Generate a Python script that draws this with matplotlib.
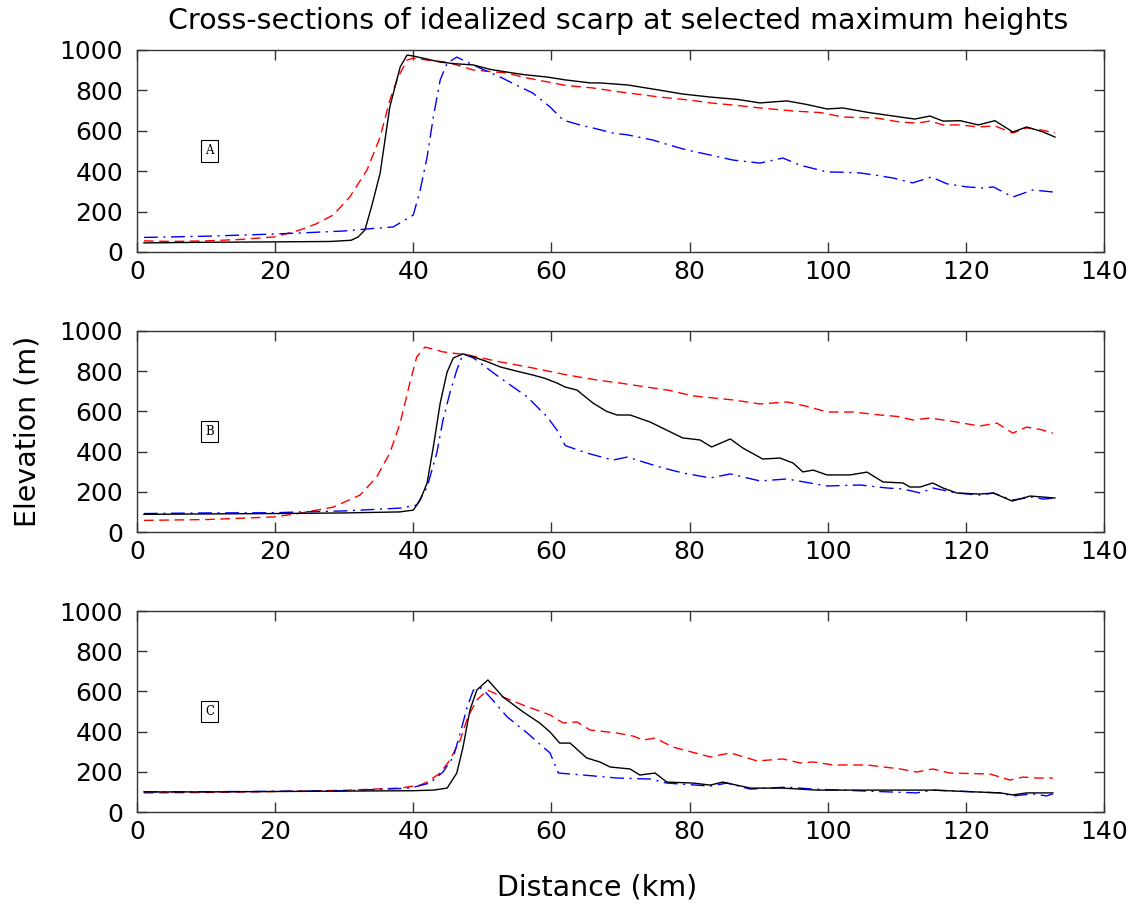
import matplotlib
matplotlib.use("Agg")
import matplotlib.pyplot as plt

# panel A (km, m)
a_black_x = [1, 10, 20, 28, 31, 32, 33, 34, 35.2, 36.6, 38.1, 39.1, 40, 42, 43.9, 46, 48.7, 51, 53.5, 56, 59.4, 62, 65.6, 67, 71, 75, 79, 83, 87, 90.2, 94.1, 97, 99.9, 102.2, 106, 109.5, 112.6, 114.8, 116.7, 119.2, 121.8, 124.2, 126.8, 128.8, 131.2, 132.9]
a_black_y = [45, 48, 50, 52, 58, 74, 109, 230, 390, 718, 916, 975, 970, 955, 940, 932, 926, 905, 891, 878, 866, 852, 837, 837, 827, 805, 782, 767, 755, 738, 748, 730, 708, 713, 690, 673, 658, 673, 648, 650, 629, 650, 594, 619, 594, 569]
a_red_x = [1, 5, 10, 15, 20, 23.6, 26, 28.4, 30.8, 33.3, 35.2, 36.6, 37.8, 39.1, 40, 42, 44.9, 48.7, 53.5, 56, 59.4, 62, 66, 70, 75.7, 80, 83, 87, 90.2, 95, 99, 102.2, 107.1, 110.5, 112.9, 114.8, 116.7, 119.2, 121.8, 124.2, 126.8, 128.8, 130.8, 132.9]
a_red_y = [55, 52, 55, 62, 75, 109, 140, 183, 272, 406, 569, 752, 866, 950, 960, 950, 940, 901, 886, 865, 842, 825, 812, 792, 767, 752, 738, 725, 713, 698, 690, 668, 663, 643, 638, 648, 629, 629, 619, 624, 589, 614, 605, 589]
a_blue_x = [1, 10, 20, 23.6, 30, 33.3, 37.1, 40, 41, 42, 42.9, 43.9, 44.9, 46.3, 47.8, 50, 52.6, 55, 57.3, 59.8, 61.7, 64, 66, 68.9, 71, 74.7, 77, 79.6, 83, 86.3, 90.2, 93.5, 96, 99.9, 102, 104.7, 107, 109.5, 112.3, 115, 117.3, 120.2, 122.5, 124, 126.8, 129.7, 132.6]
a_blue_y = [72, 78, 89, 94, 104, 114, 124, 183, 307, 470, 668, 852, 935, 965, 940, 905, 866, 825, 787, 718, 653, 630, 614, 589, 580, 554, 530, 505, 480, 455, 440, 465, 430, 396, 395, 391, 380, 366, 342, 371, 337, 322, 317, 322, 272, 307, 297]

# panel B
b_black_x = [1, 10, 20, 30, 38, 40, 41, 42, 42.9, 43.9, 44.9, 45.8, 47.2, 48.7, 50.5, 52.6, 55, 57.3, 59, 60.8, 62, 63.7, 66, 68, 69.5, 71.4, 74.3, 76.5, 79, 81.5, 83.2, 85.9, 87.7, 90.6, 93.1, 95, 96.4, 97.9, 99.9, 103.2, 105.7, 108, 110.9, 111.9, 113.4, 115.2, 116.7, 118.7, 122, 124, 126.7, 129.3, 131.2, 132.9]
b_black_y = [88, 90, 92, 95, 100, 109, 159, 244, 423, 642, 796, 866, 886, 871, 850, 821, 800, 781, 765, 741, 721, 706, 642, 600, 582, 582, 547, 510, 468, 458, 423, 463, 418, 363, 368, 343, 299, 308, 284, 284, 298, 249, 244, 224, 224, 244, 219, 194, 189, 194, 154, 179, 174, 169]
b_red_x = [1, 10, 19.7, 23, 28.4, 32.3, 34.7, 36.6, 38.1, 39.5, 40.5, 41.7, 44.3, 47.8, 52.6, 57.3, 62.3, 66.6, 69.9, 73.8, 77, 80.5, 86.3, 90.2, 94.1, 97, 99.9, 103.7, 107.6, 110, 112.4, 114.8, 118.7, 122, 124.5, 126.8, 128.8, 130.8, 132.6]
b_red_y = [58, 62, 75, 90, 124, 184, 274, 393, 542, 741, 871, 920, 896, 881, 846, 816, 781, 756, 741, 721, 705, 677, 657, 637, 647, 625, 597, 597, 582, 575, 557, 567, 547, 527, 542, 492, 522, 510, 492]
b_blue_x = [1, 10, 20, 23.6, 30, 38.1, 40.5, 42, 43.4, 44.3, 45.3, 46.3, 47.2, 48.7, 52.6, 56.5, 59.4, 60.8, 62, 65.1, 68.9, 71, 73.8, 76, 79, 83, 85.9, 90.2, 94.1, 97.4, 99.9, 104.7, 108.6, 110.9, 113.4, 115.2, 118.7, 122, 124, 126.7, 129.7, 131.2, 132.9]
b_blue_y = [92, 95, 96, 100, 105, 119, 134, 224, 393, 557, 692, 806, 886, 866, 766, 672, 572, 507, 430, 393, 358, 373, 343, 320, 294, 269, 289, 254, 264, 244, 229, 234, 219, 214, 194, 219, 194, 184, 194, 159, 174, 164, 169]

# panel C
c_black_x = [1, 10, 20, 30, 40, 42.9, 44.9, 46.3, 47.2, 48.2, 49.2, 50.8, 53, 55.9, 58.3, 59.8, 61.2, 62.7, 65.1, 67, 68.5, 71.4, 72.8, 75, 76.7, 80.5, 83, 84.8, 88.8, 93.5, 98.4, 105.7, 115.2, 120, 125, 126.8, 128.8, 132.6]
c_black_y = [100, 100, 102, 104, 106, 109, 119, 194, 323, 507, 607, 657, 572, 498, 443, 398, 343, 343, 269, 249, 224, 214, 184, 194, 149, 144, 134, 149, 119, 119, 109, 109, 109, 102, 95, 85, 95, 95]
c_red_x = [1, 10, 20, 30, 38.1, 41, 42, 43.9, 45.3, 46.8, 47.9, 49.2, 50.7, 53, 55.9, 59.8, 61.7, 63.7, 65.6, 69.5, 71.8, 73.3, 75, 77.6, 83, 85.9, 89.8, 93.5, 96, 97.9, 100.8, 105.7, 110.5, 112.9, 115.2, 117.7, 123.5, 126.4, 128.3, 130.3, 132.6]
c_red_y = [95, 97, 102, 108, 119, 134, 149, 194, 259, 358, 473, 557, 607, 572, 532, 483, 443, 448, 408, 393, 378, 358, 368, 323, 274, 294, 254, 264, 244, 249, 234, 234, 214, 199, 214, 194, 189, 159, 174, 169, 169]
c_blue_x = [1, 10, 20, 30, 39.5, 42.4, 44.3, 45.8, 46.8, 47.8, 48.7, 49.9, 51.5, 53.6, 56.5, 58.8, 59.8, 61, 64.6, 69.5, 74.3, 76.7, 83, 85.4, 88.8, 94.1, 97.9, 105.7, 112.9, 115.2, 125, 126.8, 129.7, 131.7, 132.6]
c_blue_y = [100, 101, 103, 106, 119, 144, 199, 274, 393, 522, 607, 617, 557, 473, 393, 323, 294, 194, 184, 169, 164, 144, 129, 144, 114, 124, 114, 104, 95, 109, 95, 80, 90, 80, 90]

panel_labels = ["A", "B", "C"]
x_ticks = [0, 20, 40, 60, 80, 100, 120, 140]
y_ticks = [0, 200, 400, 600, 800, 1000]

panels = [
	(a_black_x, a_black_y, a_red_x, a_red_y, a_blue_x, a_blue_y),
	(b_black_x, b_black_y, b_red_x, b_red_y, b_blue_x, b_blue_y),
	(c_black_x, c_black_y, c_red_x, c_red_y, c_blue_x, c_blue_y),
]

plt.rcParams['font.family'] = 'DejaVu Sans'
fig = plt.figure(figsize=(11.38, 9.09), dpi=100)

boxes = [
	[0.1204, 0.7228, 0.8497, 0.2222],
	[0.1204, 0.4147, 0.8497, 0.2212],
	[0.1204, 0.1067, 0.8497, 0.2211],
]

for i in range(3):
	ax = fig.add_axes(boxes[i])
	bx, by, rx, ry, ux, uy = panels[i]
	ax.plot(rx, ry, color='red', lw=1.0, dashes=(7, 4))
	ax.plot(ux, uy, color='blue', lw=1.0, dashes=(10, 4, 1.5, 4))
	ax.plot(bx, by, color='black', lw=1.0)

	ax.set_xlim(0, 140)
	ax.set_ylim(0, 1000)
	ax.set_xticks(x_ticks)
	ax.set_yticks(y_ticks)
	ax.tick_params(direction='in', length=7, width=1, top=True, right=True,
		labelsize=18, colors='#333333', labelcolor='black')
	ax.tick_params(axis='y', pad=10)
	ax.tick_params(axis='x', pad=6)
	for s in ax.spines.values():
		s.set_color('#333333')
		s.set_linewidth(1.0)

	# small boxed panel letter
	ax.text(10.5, 500, panel_labels[i], fontsize=8.5, family='DejaVu Serif',
		ha='center', va='center',
		bbox=dict(boxstyle='square,pad=0.35', fc='white', ec='black', lw=0.8))

fig.text(0.543, 0.977, "Cross-sections of idealized scarp at selected maximum heights",
	ha='center', va='center', fontsize=20.5)
fig.text(0.024, 0.525, "Elevation (m)", rotation=90, ha='center', va='center', fontsize=20.5)
fig.text(0.525, 0.024, "Distance (km)", ha='center', va='center', fontsize=20.5)

fig.savefig("out.png", dpi=100)
